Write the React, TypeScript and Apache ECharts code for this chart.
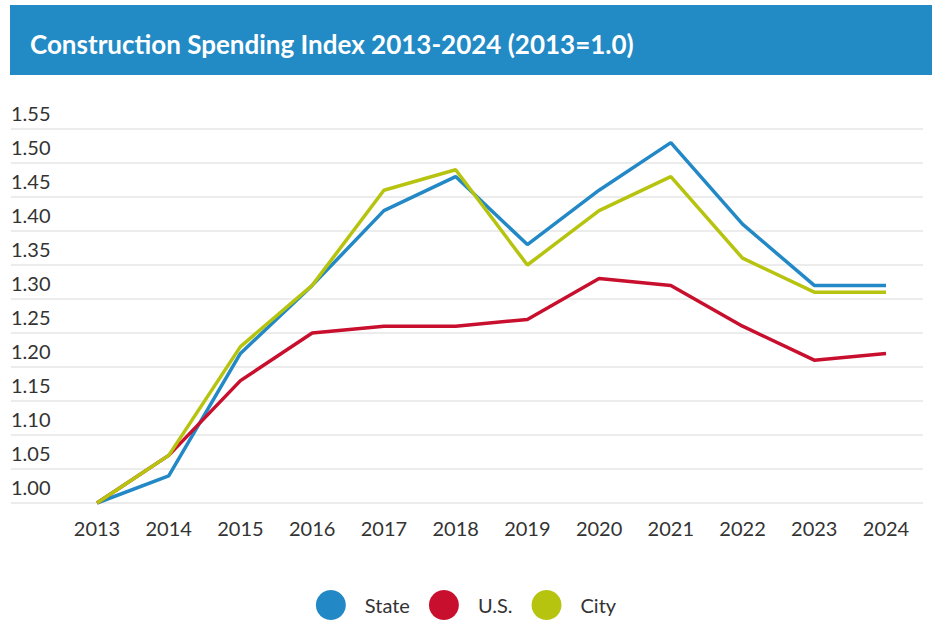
import React, { useEffect, useRef } from "react";
import * as echarts from "echarts";

const years = ["2013", "2014", "2015", "2016", "2017", "2018", "2019", "2020", "2021", "2022", "2023", "2024"];
const stateValues = [1.0, 1.04, 1.22, 1.32, 1.43, 1.48, 1.38, 1.46, 1.53, 1.41, 1.32, 1.32];
const usValues = [1.0, 1.07, 1.18, 1.25, 1.26, 1.26, 1.27, 1.33, 1.32, 1.26, 1.21, 1.22];
const cityValues = [1.0, 1.07, 1.23, 1.32, 1.46, 1.49, 1.35, 1.43, 1.48, 1.36, 1.31, 1.31];
const seriesNames = ["State", "U.S.", "City"];
const seriesColors = ["#2389c6", "#c8102e", "#b6c40f"];
const titleText = "Construction Spending Index 2013-2024 (2013=1.0)";

const FONT = "Lato, 'Open Sans', sans-serif";

export default function App() {
  const ref = useRef<HTMLDivElement>(null);
  useEffect(() => {
    if (!ref.current) return;
    const chart = echarts.init(ref.current, undefined, { renderer: "svg" });
    const yMin = 1.0;
    const yMax = 1.55;
    const step = 0.05;
    const values = [stateValues, usValues, cityValues];
    chart.setOption({
      animation: false,
      backgroundColor: "#ffffff",
      textStyle: { fontFamily: FONT },
      graphic: [
        {
          type: "rect",
          shape: { x: 10, y: 5, width: 922, height: 70 },
          style: { fill: "#228ac5" },
          z: 10,
        },
        {
          type: "text",
          x: 30,
          y: 44,
          z: 11,
          style: {
            text: titleText,
            fill: "#ffffff",
            font: `bold 26px ${FONT}`,
            verticalAlign: "middle",
            align: "left",
          },
        },
      ],
      legend: {
        top: 585,
        left: "center",
        icon: "circle",
        itemWidth: 30,
        itemHeight: 30,
        itemGap: 19,
        data: seriesNames,
        textStyle: { fontSize: 20, color: "#333", fontFamily: FONT, padding: [0, 0, 0, 14] },
      },
      grid: [
        { left: 11, right: 9, top: 129, bottom: 121 },
        { left: 97, right: 46, top: 129, bottom: 121 },
      ],
      xAxis: [
        { type: "category", gridIndex: 0, data: years, show: false },
        {
          type: "category",
          gridIndex: 1,
          data: years,
          boundaryGap: false,
          axisLine: { show: false },
          axisTick: { show: false },
          splitLine: { show: false },
          axisLabel: { fontSize: 20, color: "#333", margin: 15, fontFamily: FONT },
        },
      ],
      yAxis: [
        {
          type: "value",
          gridIndex: 0,
          min: yMin,
          max: yMax,
          interval: step,
          axisLine: { show: false },
          axisTick: { show: false },
          splitLine: { lineStyle: { color: "#ececec", width: 2 } },
          axisLabel: {
            inside: true,
            margin: 0,
            align: "left",
            verticalAlign: "bottom",
            padding: [0, 0, 6, 0],
            fontSize: 20,
            color: "#333",
            fontFamily: FONT,
            formatter: (v: number) => v.toFixed(2),
          },
        },
        { type: "value", gridIndex: 1, min: yMin, max: yMax, interval: step, show: false, splitLine: { show: false } },
      ],
      series: seriesNames.map((name, i) => ({
        name,
        type: "line",
        xAxisIndex: 1,
        yAxisIndex: 1,
        data: values[i],
        symbol: "none",
        showSymbol: false,
        lineStyle: { width: 3.5, color: seriesColors[i] },
        itemStyle: { color: seriesColors[i] },
      })),
    });
    return () => chart.dispose();
  }, []);
  return <div ref={ref} style={{ position: "fixed", left: 0, top: 0, width: 932, height: 624 }} />;
}
